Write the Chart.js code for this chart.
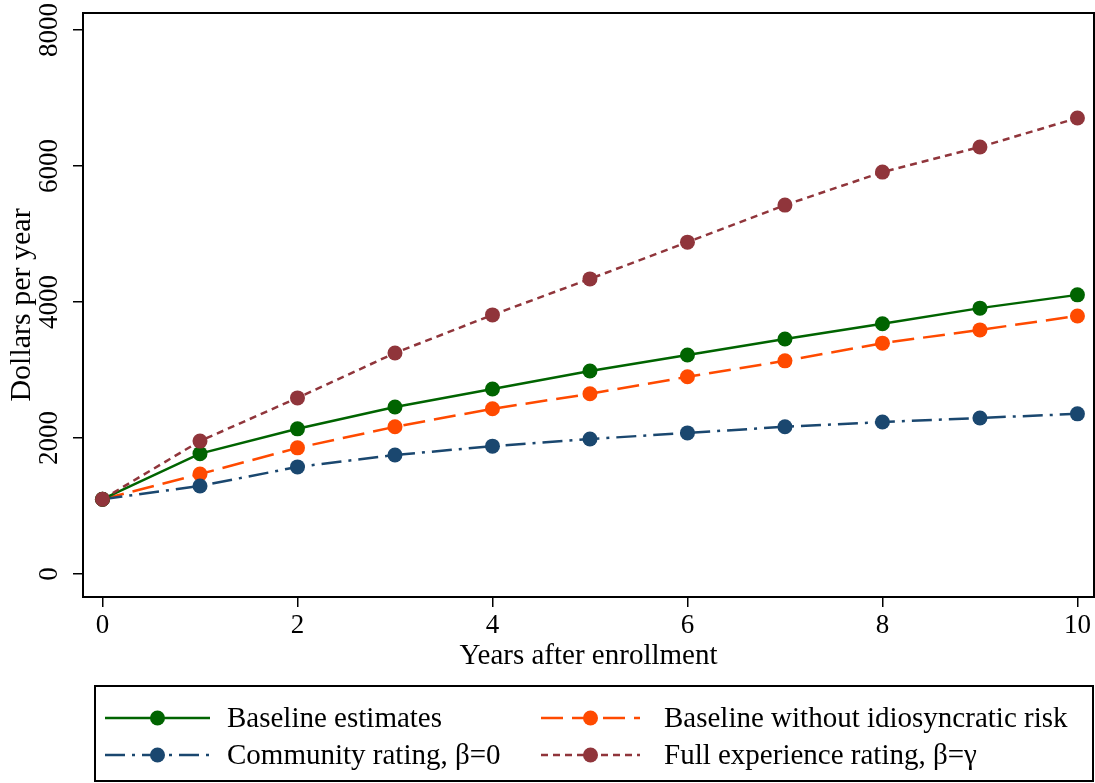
<!DOCTYPE html>
<html>
<head>
<meta charset="utf-8">
<script src="https://cdn.jsdelivr.net/npm/chart.js@4.4.0/dist/chart.umd.min.js"></script>
<style>
  html, body { margin: 0; padding: 0; background: #fff; }
  #wrap { width: 1095px; height: 783px; position: relative; }
</style>
</head>
<body>
<div id="wrap"><canvas id="chart" width="1095" height="783"></canvas></div>
<script>
// Données
const years = [0, 1, 2, 3, 4, 5, 6, 7, 8, 9, 10];
const baseline = [1100, 1770, 2135, 2455, 2720, 2985, 3220, 3455, 3680, 3910, 4105];
const noIdio = [1100, 1470, 1855, 2165, 2430, 2650, 2900, 3135, 3395, 3590, 3795];
const community = [1100, 1295, 1575, 1750, 1880, 1985, 2075, 2165, 2235, 2295, 2355];
const fullExp = [1100, 1955, 2590, 3250, 3810, 4340, 4880, 5425, 5910, 6280, 6705];
const xTicks = [0, 2, 4, 6, 8, 10];
const yTicks = [0, 2000, 4000, 6000, 8000];

const FONT = 'Liberation Serif, Times New Roman, serif';
const toPoints = vals => years.map((x, i) => ({ x: x, y: vals[i] }));

function series(label, vals, color, dash, order) {
    return {
        label: label,
        data: toPoints(vals),
        borderColor: color,
        backgroundColor: color,
        borderWidth: 2.5,
        borderDash: dash,
        pointRadius: 7.5,
        pointHoverRadius: 7.5,
        pointBorderWidth: 0,
        pointBackgroundColor: color,
        tension: 0,
        order: order
    };
}

// Cadre autour de la zone du graphique
const framePlugin = {
    id: 'frame',
    afterDraw(chart) {
        const { ctx, chartArea: a } = chart;
        ctx.save();
        ctx.strokeStyle = '#000';
        ctx.lineWidth = 2;
        ctx.strokeRect(a.left, a.top, a.right - a.left, a.bottom - a.top);
        ctx.restore();
    }
};

// Légende encadrée en bas, deux colonnes
const legendPlugin = {
    id: 'boxLegend',
    afterDraw(chart) {
        const ctx = chart.ctx;
        const box = { left: 95, top: 686, right: 1093, bottom: 781 };
        ctx.save();
        ctx.strokeStyle = '#000';
        ctx.lineWidth = 2;
        ctx.strokeRect(box.left, box.top, box.right - box.left, box.bottom - box.top);
        const slots = [
            { x0: 105, x1: 210, tx: 227, y: 718 },
            { x0: 541, x1: 640, tx: 664, y: 718 },
            { x0: 105, x1: 210, tx: 227, y: 755 },
            { x0: 541, x1: 640, tx: 664, y: 755 }
        ];
        chart.data.datasets.forEach((ds, i) => {
            const s = slots[i];
            ctx.strokeStyle = ds.borderColor;
            ctx.lineWidth = ds.borderWidth;
            ctx.setLineDash(ds.borderDash);
            ctx.beginPath();
            ctx.moveTo(s.x0, s.y);
            ctx.lineTo(s.x1, s.y);
            ctx.stroke();
            ctx.setLineDash([]);
            ctx.fillStyle = ds.borderColor;
            ctx.beginPath();
            ctx.arc((s.x0 + s.x1) / 2, s.y, ds.pointRadius, 0, Math.PI * 2);
            ctx.fill();
            ctx.fillStyle = '#000';
            ctx.font = '29px ' + FONT;
            ctx.textBaseline = 'middle';
            ctx.textAlign = 'left';
            ctx.fillText(ds.label, s.tx, s.y + 1);
        });
        ctx.restore();
    }
};

new Chart(document.getElementById('chart'), {
    type: 'line',
    data: {
        datasets: [
            series('Baseline estimates', baseline, '#006400', [], 1),
            series('Baseline without idiosyncratic risk', noIdio, '#ff4a00', [22, 9], 3),
            series('Community rating, \u03b2=0', community, '#1a476f', [20, 7, 3, 7], 2),
            series('Full experience rating, \u03b2=\u03b3', fullExp, '#90353b', [7, 5], 0)
        ]
    },
    options: {
        responsive: false,
        animation: false,
        layout: { autoPadding: false, padding: { top: 13, right: 1, bottom: 100, left: 0 } },
        plugins: {
            legend: { display: false },
            tooltip: { enabled: false }
        },
        scales: {
            x: {
                type: 'linear',
                min: -0.2,
                max: 10.17,
                afterBuildTicks: scale => { scale.ticks = xTicks.map(v => ({ value: v })); },
                afterFit: scale => {
                    scale.height = 86;
                    scale.paddingLeft = 0;
                    scale.paddingRight = 0;
                },
                border: { display: false },
                grid: { drawOnChartArea: false, drawTicks: true, tickLength: 10, color: '#000', lineWidth: 1.5 },
                ticks: {
                    color: '#000',
                    font: { family: FONT, size: 27 },
                    padding: 3,
                    maxRotation: 0,
                    callback: v => String(v)
                },
                title: {
                    display: true,
                    text: 'Years after enrollment',
                    color: '#000',
                    font: { family: FONT, size: 29 },
                    padding: { top: 0, bottom: 9 }
                }
            },
            y: {
                min: -338,
                max: 8250,
                afterBuildTicks: scale => { scale.ticks = yTicks.map(v => ({ value: v })); },
                afterFit: scale => {
                    scale.width = 83;
                    scale.paddingTop = 0;
                    scale.paddingBottom = 0;
                },
                border: { display: false },
                grid: { drawOnChartArea: false, drawTicks: true, tickLength: 10, color: '#000', lineWidth: 1.5 },
                ticks: {
                    color: '#000',
                    font: { family: FONT, size: 27 },
                    padding: -4,
                    minRotation: 90,
                    maxRotation: 90,
                    crossAlign: 'center',
                    callback: v => String(v)
                },
                title: {
                    display: true,
                    text: 'Dollars per year',
                    color: '#000',
                    font: { family: FONT, size: 30 },
                    padding: { top: 4, bottom: 0 }
                }
            }
        }
    },
    plugins: [framePlugin, legendPlugin]
});
</script>
</body>
</html>
